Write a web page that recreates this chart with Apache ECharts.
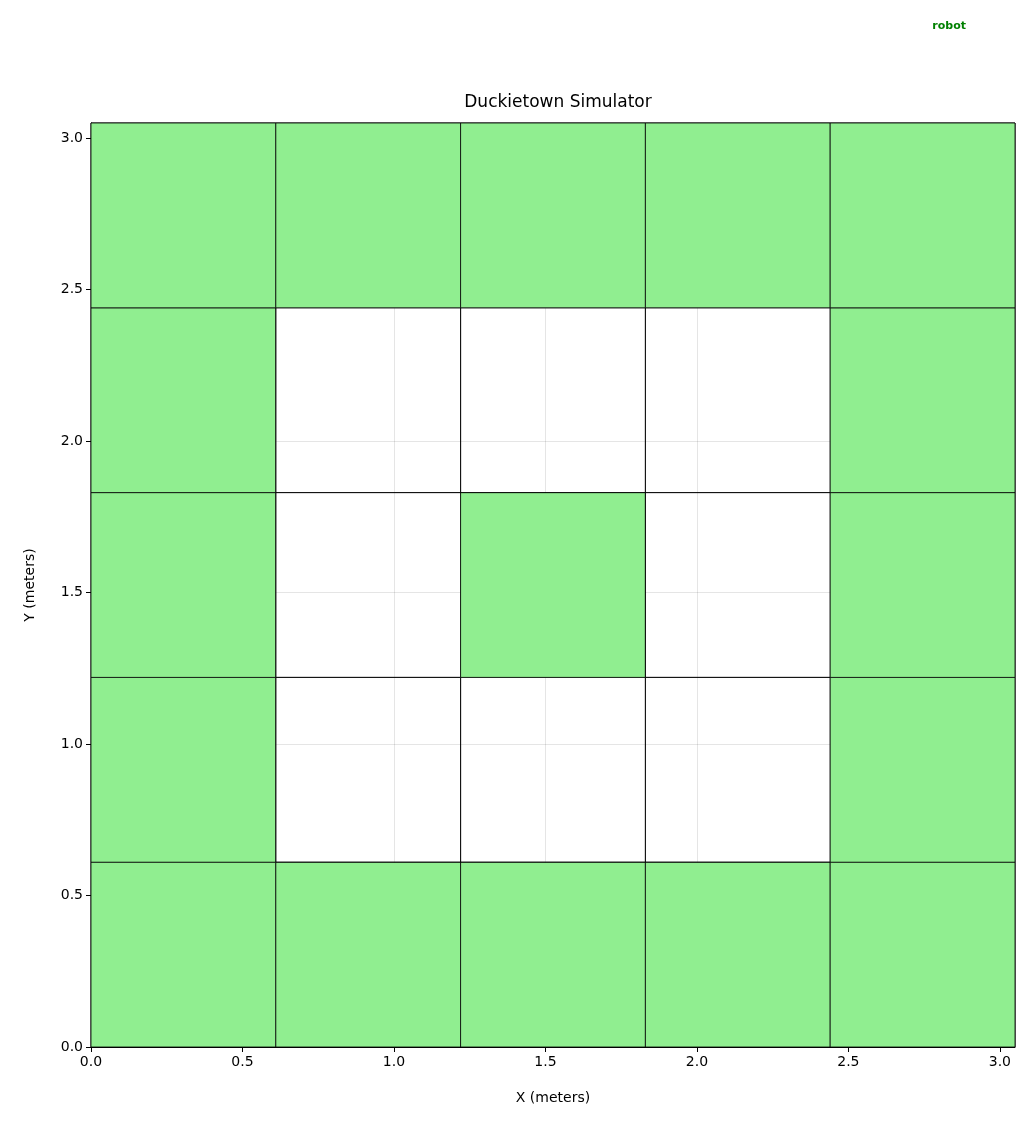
<!DOCTYPE html>
<html>
<head>
<meta charset="utf-8">
<script src="https://cdn.jsdelivr.net/npm/echarts@6/dist/echarts.min.js"></script>
<style>html,body{margin:0;padding:0;background:#fff}#chart{width:1031px;height:1125px}</style>
</head>
<body>
<div id="chart"></div>
<script>
// tile map, row 0 = bottom; 1 = grass (green), 0 = road (white)
const tileSize = 0.61;
const tileRows = [
  [1, 1, 1, 1, 1],
  [1, 0, 0, 0, 1],
  [1, 0, 1, 0, 1],
  [1, 0, 0, 0, 1],
  [1, 1, 1, 1, 1]
];
const axisMax = 3.05;
const tickStep = 0.5;

const tiles = [];
tileRows.forEach((row, j) => row.forEach((v, i) => tiles.push([i, j, v])));

const chart = echarts.init(document.getElementById('chart'));
const axisCommon = {
  type: 'value', min: 0, max: axisMax, interval: tickStep,
  nameLocation: 'middle',
  nameTextStyle: { color: '#000', fontSize: 14, fontFamily: 'DejaVu Sans' },
  axisLine: { lineStyle: { color: '#000' } },
  axisTick: { show: true, inside: false, length: 5, lineStyle: { color: '#000' } },
  axisLabel: { color: '#000', fontSize: 14, fontFamily: 'DejaVu Sans', showMaxLabel: false,
    formatter: v => v.toFixed(1) },
  splitLine: { show: true, lineStyle: { color: 'rgba(0,0,0,0.1)' } }
};

chart.setOption({
  animation: false,
  title: {
    text: 'Duckietown Simulator', left: 553, top: 89, textAlign: 'center',
    textStyle: { fontWeight: 'normal', fontSize: 17, color: '#000', fontFamily: 'DejaVu Sans' }
  },
  legend: {
    right: 60, top: 14, icon: 'none', data: ['robot'],
    textStyle: { color: '#008000', fontWeight: 'bold', fontSize: 11, fontFamily: 'DejaVu Sans' }
  },
  grid: { left: 91, right: 16, top: 123, bottom: 78, show: true, borderColor: '#000', borderWidth: 1 },
  xAxis: Object.assign({}, axisCommon, { name: 'X (meters)', nameGap: 44 }),
  yAxis: Object.assign({}, axisCommon, { name: 'Y (meters)', nameGap: 54 }),
  series: [
    {
      type: 'custom',
      data: tiles,
      renderItem: (params, api) => {
        const i = api.value(0), j = api.value(1), v = api.value(2);
        const p0 = api.coord([i * tileSize, (j + 1) * tileSize]);
        const p1 = api.coord([(i + 1) * tileSize, j * tileSize]);
        return {
          type: 'rect',
          shape: { x: p0[0], y: p0[1], width: p1[0] - p0[0], height: p1[1] - p0[1] },
          style: { fill: v ? '#90ee90' : 'rgba(255,255,255,0)', stroke: '#000', lineWidth: 0.8 }
        };
      }
    },
    { name: 'robot', type: 'line', data: [], itemStyle: { color: '#008000' } }
  ]
});
</script>
</body>
</html>
